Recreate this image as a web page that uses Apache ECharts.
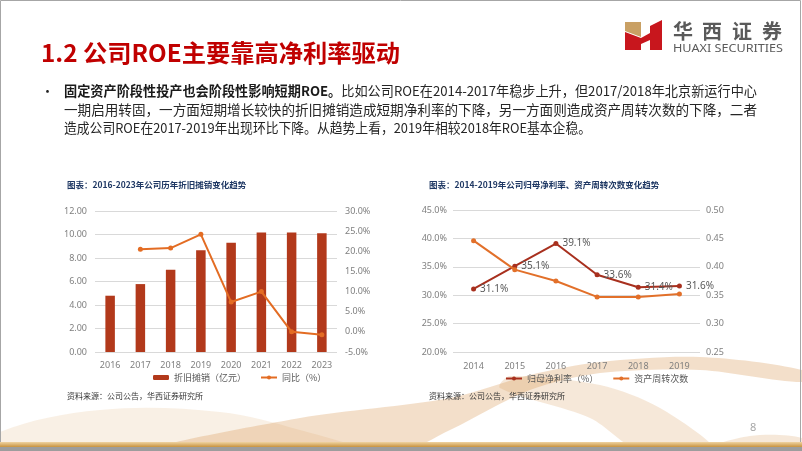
<!DOCTYPE html>
<html>
<head>
<meta charset="utf-8">
<script src="https://cdn.jsdelivr.net/npm/echarts@6/dist/echarts.min.js"></script>
<style>html,body{margin:0;padding:0;background:#fff;}#c{width:802px;height:451px;}</style>
</head>
<body>
<div id="c"></div>
<script>
// ---- data ----
const years1 = ['2016','2017','2018','2019','2020','2021','2022','2023'];
const depAmort = [4.79, 5.78, 7.00, 8.65, 9.30, 10.18, 10.18, 10.10];
const depYoY = [null, 20.5, 20.8, 24.2, 7.4, 10.0, 0.0, -0.7];
const years2 = ['2014','2015','2016','2017','2018','2019'];
const netMargin = [31.1, 35.1, 39.1, 33.6, 31.4, 31.6];
const turnover = [0.446, 0.395, 0.375, 0.347, 0.347, 0.352];

const CJK = '"Noto Sans CJK SC",sans-serif';
const AX = '"Noto Sans","Noto Sans CJK SC",sans-serif';
const grey = '#7f7f7f';

const ctx = document.createElement('canvas').getContext('2d');
function tw(text, font) { ctx.font = font; return ctx.measureText(text).width; }

const bodyFont = '13.5px ' + CJK;
const boldFont = 'bold 13.5px ' + CJK;
const l1b = '固定资产阶段性投产也会阶段性影响短期ROE。';
const l1n = '比如公司ROE在2014-2017年稳步上升，但2017/2018年北京新运行中心';
const l2 = '一期启用转固，一方面短期增长较快的折旧摊销造成短期净利率的下降，另一方面则造成资产周转次数的下降，二者';
const l3 = '造成公司ROE在2017-2019年出现环比下降。从趋势上看，2019年相较2018年ROE基本企稳。';
const s1 = 693 / (tw(l1b, boldFont) + tw(l1n, bodyFont));
const s2 = 693 / tw(l2, bodyFont);
const s3 = 527 / tw(l3, bodyFont);
const titleText = '1.2 公司ROE主要靠高净利率驱动';
const titleFont = 'bold 24px ' + CJK;
const sT = 359 / tw(titleText, titleFont);
const hxFont = '10px "Noto Sans",sans-serif';
const sH = 110 / tw('HUAXI SECURITIES', hxFont);

const chart = echarts.init(document.getElementById('c'));

const axisLabel = {color: grey, fontSize: 9, fontFamily: AX};
const option = {
  animation: false,
  backgroundColor: '#fff',
  grid: [
    {left: 95, right: 465, top: 211, bottom: 99},
    {left: 453, right: 102, top: 210, bottom: 99}
  ],
  xAxis: [
    {type: 'category', gridIndex: 0, data: years1, axisLine: {show: false}, axisTick: {show: false},
     axisLabel: Object.assign({margin: 9}, axisLabel)},
    {type: 'category', gridIndex: 1, data: years2, axisLine: {show: false}, axisTick: {show: false},
     axisLabel: Object.assign({margin: 10}, axisLabel)}
  ],
  yAxis: [
    {type: 'value', gridIndex: 0, min: 0, max: 12, interval: 2,
     axisLabel: Object.assign({margin: 8, formatter: v => v.toFixed(2)}, axisLabel),
     splitLine: {lineStyle: {color: '#d9d9d9'}}, axisLine: {show: false}, axisTick: {show: false}},
    {type: 'value', gridIndex: 0, min: -5, max: 30, interval: 5, position: 'right',
     axisLabel: Object.assign({margin: 8, formatter: v => v.toFixed(1) + '%'}, axisLabel),
     splitLine: {show: false}, axisLine: {show: false}, axisTick: {show: false}},
    {type: 'value', gridIndex: 1, min: 20, max: 45, interval: 5,
     axisLabel: Object.assign({margin: 6, formatter: v => v.toFixed(1) + '%'}, axisLabel),
     splitLine: {lineStyle: {color: '#d9d9d9'}}, axisLine: {show: false}, axisTick: {show: false}},
    {type: 'value', gridIndex: 1, min: 0.25, max: 0.50, interval: 0.05, position: 'right',
     axisLabel: Object.assign({margin: 6, formatter: v => v.toFixed(2)}, axisLabel),
     splitLine: {show: false}, axisLine: {show: false}, axisTick: {show: false}}
  ],
  legend: [
    {left: 148, top: 368, itemWidth: 16, itemHeight: 5, itemGap: 14,
     textStyle: {color: '#595959', fontSize: 9, fontFamily: CJK},
     data: ['折旧摊销（亿元）', '同比（%）']},
    {left: 500, top: 369, itemWidth: 16, itemHeight: 5, itemGap: 14,
     textStyle: {color: '#595959', fontSize: 9, fontFamily: CJK},
     data: ['归母净利率（%）', '资产周转次数']}
  ],
  series: [
    {name: '折旧摊销（亿元）', type: 'bar', xAxisIndex: 0, yAxisIndex: 0, data: depAmort,
     barWidth: 9.5, itemStyle: {color: '#b2391b'}},
    {name: '同比（%）', type: 'line', xAxisIndex: 0, yAxisIndex: 1, data: depYoY,
     symbol: 'circle', symbolSize: 5, lineStyle: {width: 2, color: '#e36c23'},
     itemStyle: {color: '#e36c23'}},
    {name: '归母净利率（%）', type: 'line', xAxisIndex: 1, yAxisIndex: 2, data: netMargin,
     symbol: 'circle', symbolSize: 5, lineStyle: {width: 2, color: '#a8301e'},
     itemStyle: {color: '#a8301e'}, z: 3,
     label: {show: true, position: 'right', distance: 4, color: '#595959', fontSize: 10,
       fontFamily: AX, formatter: p => p.value.toFixed(1) + '%'}},
    {name: '资产周转次数', type: 'line', xAxisIndex: 1, yAxisIndex: 3, data: turnover,
     symbol: 'circle', symbolSize: 5, lineStyle: {width: 2, color: '#e2702a'},
     itemStyle: {color: '#e2702a'}, z: 4}
  ],
  graphic: [
    // decorative waves
    {type: 'polygon', z: -10, shape: {smooth: 0.35, points: [[0,432],[100,410],[220,412],[300,430],[360,451],[0,451]]},
     style: {fill: 'rgba(222,170,110,0.18)'}},
    {type: 'polygon', z: -10, shape: {smooth: 0.3, points: [[150,451],[300,418],[450,398],[530,375],[600,362],[700,357],[802,370],[802,382],[700,370],[600,373],[530,390],[450,430],[400,451]]},
     style: {fill: 'rgba(214,150,80,0.30)'}},
    {type: 'polygon', z: -10, shape: {smooth: 0.3, points: [[510,376],[600,385],[660,408],[715,451],[640,451],[590,418],[500,388]]},
     style: {fill: 'rgba(214,150,80,0.22)'}},
    {type: 'polygon', z: -10, shape: {smooth: 0.3, points: [[700,451],[750,436],[802,438],[802,451]]},
     style: {fill: 'rgba(214,150,80,0.22)'}},
    // frame
    {type: 'rect', z: -5, shape: {x: 0.5, y: 0.5, width: 800, height: 450}, style: {fill: 'none', stroke: '#a6a6a6', lineWidth: 1}},
    {type: 'rect', shape: {x: 0, y: 442, width: 802, height: 5},
     style: {fill: {type: 'linear', x: 0, y: 0, x2: 0, y2: 1, colorStops: [{offset: 0, color: '#efd3a2'}, {offset: 1, color: '#c8933f'}]}}},
    {type: 'rect', shape: {x: 0, y: 447, width: 802, height: 4}, style: {fill: '#9d9d9d'}},
    // page title
    {type: 'text', x: 41, y: 53, scaleX: sT, style: {text: titleText, fill: '#c00000', font: titleFont, verticalAlign: 'middle'}},
    // logo
    {type: 'polygon', shape: {points: [[625,22],[641,22],[641,37],[625,31]]}, style: {fill: '#c9a064'}},
    {type: 'polygon', shape: {points: [[625,32],[641,38],[641,50],[625,50]]}, style: {fill: '#c8161d'}},
    {type: 'polygon', shape: {points: [[641,38],[650,33],[650,40],[641,44]]}, style: {fill: '#c8161d'}},
    {type: 'polygon', shape: {points: [[650,26],[662,20],[662,50],[650,50]]}, style: {fill: '#c8161d'}},
    {type: 'text', x: 673, y: 31, style: {text: '华', fill: '#5a5a5a', font: 'bold 20px ' + CJK, verticalAlign: 'middle'}},
    {type: 'text', x: 702, y: 31, style: {text: '西', fill: '#5a5a5a', font: 'bold 20px ' + CJK, verticalAlign: 'middle'}},
    {type: 'text', x: 732, y: 31, style: {text: '证', fill: '#5a5a5a', font: 'bold 20px ' + CJK, verticalAlign: 'middle'}},
    {type: 'text', x: 762, y: 31, style: {text: '券', fill: '#5a5a5a', font: 'bold 20px ' + CJK, verticalAlign: 'middle'}},
    {type: 'text', x: 673, y: 49, scaleX: sH, style: {text: 'HUAXI SECURITIES', fill: '#5a5a5a', font: hxFont, verticalAlign: 'middle'}},
    // bullet
    {type: 'text', x: 41, y: 91, style: {text: '•', fill: '#222', font: '13px ' + CJK, verticalAlign: 'middle'}},
    {type: 'text', x: 64, y: 91, scaleX: s1, style: {
      text: '{b|' + l1b + '}{n|' + l1n + '}', verticalAlign: 'middle',
      rich: {b: {font: boldFont, fill: '#1a1a1a'}, n: {font: bodyFont, fill: '#262626'}}}},
    {type: 'text', x: 64, y: 110, scaleX: s2, style: {text: l2, font: bodyFont, fill: '#262626', verticalAlign: 'middle'}},
    {type: 'text', x: 64, y: 128, scaleX: s3, style: {text: l3, font: bodyFont, fill: '#262626', verticalAlign: 'middle'}},
    // chart titles
    {type: 'text', left: 67, top: 181, style: {text: '图表：2016-2023年公司历年折旧摊销变化趋势', fill: '#1f3864', font: 'bold 8.5px ' + CJK}},
    {type: 'text', left: 429, top: 181, style: {text: '图表：2014-2019年公司归母净利率、资产周转次数变化趋势', fill: '#1f3864', font: 'bold 8.5px ' + CJK}},
    // sources
    {type: 'text', left: 67, top: 392, style: {text: '资料来源：公司公告，华西证券研究所', fill: '#333', font: '8px ' + CJK}},
    {type: 'text', left: 429, top: 392, style: {text: '资料来源：公司公告，华西证券研究所', fill: '#333', font: '8px ' + CJK}},
    // page number
    {type: 'text', left: 750, top: 422, style: {text: '8', fill: '#a6a6a6', font: '11px "Noto Sans",sans-serif'}}
  ]
};
chart.setOption(option);
</script>
</body>
</html>
